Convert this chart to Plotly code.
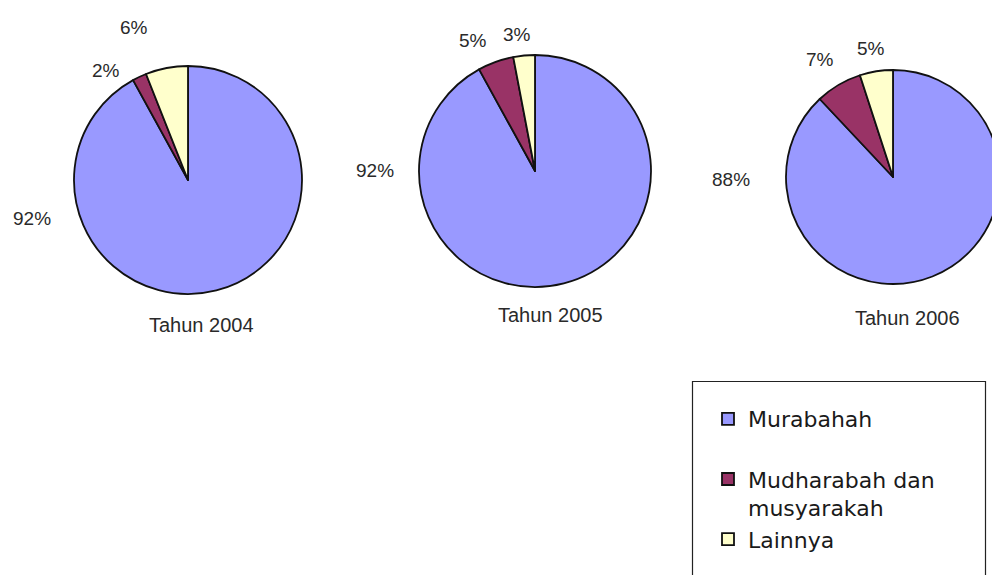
import plotly.graph_objects as go

# ---- data ----
categories = ["Murabahah", "Mudharabah dan musyarakah", "Lainnya"]
years = ["Tahun 2004", "Tahun 2005", "Tahun 2006"]
values_2004 = [92, 2, 6]
values_2005 = [92, 5, 3]
values_2006 = [88, 7, 5]
series = [values_2004, values_2005, values_2006]

colors = ["#9999FF", "#993366", "#FFFFCC"]

# legend display names (layout only)
legend_names = ["Murabahah<br> ", "Mudharabah dan<br>musyarakah", "Lainnya"]

# page body has an 8px default margin; figure sized to fill the rest of the window
OX, OY = 8, 8
W, H = 992, 567

def px_x(x):
    return (x - OX) / W

def px_y(y):
    return 1 - (y - OY) / H

# pie placement in window pixels (x0, x1, y0, y1)
boxes = [
    (74, 302, 66, 294),
    (419, 651, 55, 287),
    (786, 1000, 70, 284),
]

fig = go.Figure()
for i, (vals, box) in enumerate(zip(series, boxes)):
    x0, x1, y0, y1 = box
    fig.add_trace(go.Pie(
        labels=legend_names,
        values=vals,
        sort=False,
        direction="clockwise",
        rotation=0,
        textinfo="none",
        hoverinfo="label+percent",
        marker=dict(colors=colors, line=dict(color="#111111", width=1.8)),
        domain=dict(x=[max(0, px_x(x0)), min(1, px_x(x1))],
                    y=[px_y(y1), px_y(y0)]),
        showlegend=(i == 0),
    ))

# label positions (window pixels) for each pie, per slice
label_pos = [
    [(32, 218), (106, 70), (134, 27)],
    [(375, 170), (473, 41), (517, 34)],
    [(731, 179), (820, 59), (871, 48)],
]
title_pos = [(201, 325), (550, 315), (907, 318)]

ann = []
for vals, pos in zip(series, label_pos):
    for v, (x, y) in zip(vals, pos):
        ann.append(dict(x=px_x(x), y=px_y(y), xref="paper", yref="paper",
                        text=f"{v}%", showarrow=False,
                        font=dict(family="Liberation Sans, Arial", size=19, color="#2a2a2a"),
                        xanchor="center", yanchor="middle"))
for t, (x, y) in zip(years, title_pos):
    ann.append(dict(x=px_x(x), y=px_y(y), xref="paper", yref="paper",
                    text=t, showarrow=False,
                    font=dict(family="Liberation Sans, Arial", size=20, color="#2a2a2a"),
                    xanchor="center", yanchor="middle"))

fig.update_layout(
    width=W, height=H,
    margin=dict(l=0, r=0, t=0, b=0),
    paper_bgcolor="white",
    plot_bgcolor="white",
    annotations=ann,
    legend=dict(
        x=px_x(708), y=px_y(398), xanchor="left", yanchor="top",
        bgcolor="rgba(0,0,0,0)", borderwidth=0,
        font=dict(family="DejaVu Sans", size=22, color="#1a1a1a"),
        valign="top",
        traceorder="normal",
    ),
    shapes=[dict(type="rect", xref="paper", yref="paper",
                 x0=px_x(692.5), x1=px_x(985.5), y0=-0.05, y1=px_y(381.5),
                 line=dict(color="#222222", width=1.2), fillcolor="rgba(0,0,0,0)",
                 layer="below")],
)

fig.write_html("out.html")
